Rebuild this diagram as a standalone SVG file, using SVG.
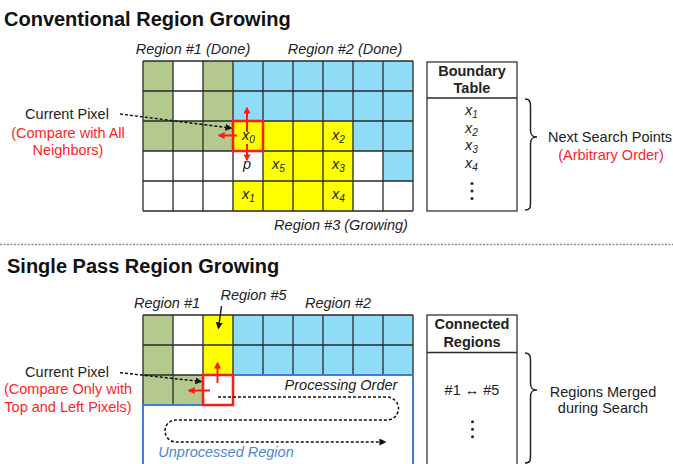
<svg xmlns="http://www.w3.org/2000/svg" width="673" height="464" viewBox="0 0 673 464">
<style>
text{font-family:"Liberation Sans",Arial,sans-serif;font-size:14.5px;fill:#222}
.title{font-size:20px;font-weight:bold;fill:#111}
.it{font-style:italic}
.b{font-weight:bold}
.red{fill:#ff2424}
.blu{fill:#4a86d8}
.mid{text-anchor:middle}
.sub{font-size:10px}
.gr{fill:#b5c98e}
.bl{fill:#8fdcf9}
.ye{fill:#ffff00}
.wh{fill:#ffffff}
.grid{stroke:#2a2a2a;stroke-width:1.3;fill:none}
.rbox{stroke:#ff1a1a;stroke-width:2.5;fill:none}
.rarr{stroke:#ff1a1a;stroke-width:2;fill:none;marker-end:url(#ar)}
.dash{stroke:#111;stroke-width:1.5;fill:none;stroke-dasharray:3 2;marker-end:url(#ak)}
.tbl{stroke:#333;stroke-width:1.3;fill:#fff}
.brace{stroke:#222;stroke-width:1.5;fill:none}
</style>
<defs>
<marker id="ar" viewBox="0 0 10 10" refX="8" refY="5" markerWidth="7" markerHeight="7" orient="auto" markerUnits="userSpaceOnUse"><path d="M0,0 L10,5 L0,10 z" fill="#ff1a1a"/></marker>
<marker id="ak" viewBox="0 0 10 10" refX="8" refY="5" markerWidth="7" markerHeight="7" orient="auto" markerUnits="userSpaceOnUse"><path d="M0,0 L10,5 L0,10 z" fill="#111"/></marker>
</defs>
<rect width="673" height="464" fill="#fff"/>

<text class="title" x="4" y="26">Conventional Region Growing</text>

<g id="grid-top">
<rect class="wh" x="143" y="61" width="270" height="150"/>
<rect class="gr" x="143" y="61" width="30" height="60"/>
<rect class="gr" x="203" y="61" width="30" height="60"/>
<rect class="gr" x="143" y="121" width="90" height="30"/>
<rect class="bl" x="233" y="61" width="180" height="60"/>
<rect class="bl" x="353" y="121" width="60" height="30"/>
<rect class="bl" x="383" y="151" width="30" height="30"/>
<rect class="ye" x="233" y="121" width="120" height="30"/>
<rect class="ye" x="263" y="151" width="90" height="30"/>
<rect class="ye" x="233" y="181" width="120" height="30"/>
<path class="grid" d="M143,61V211M173,61V211M203,61V211M233,61V211M263,61V211M293,61V211M323,61V211M353,61V211M383,61V211M413,61V211M143,61H413M143,91H413M143,121H413M143,151H413M143,181H413M143,211H413"/>
<text class="it" x="242" y="140">x<tspan class="sub" dy="3">0</tspan></text>
<text class="it mid" x="247" y="169">p</text>
<text class="it" x="272" y="169">x<tspan class="sub" dy="3">5</tspan></text>
<text class="it" x="332" y="140">x<tspan class="sub" dy="3">2</tspan></text>
<text class="it" x="332" y="169">x<tspan class="sub" dy="3">3</tspan></text>
<text class="it" x="242" y="199">x<tspan class="sub" dy="3">1</tspan></text>
<text class="it" x="332" y="199">x<tspan class="sub" dy="3">4</tspan></text>
<rect class="rbox" x="233" y="121" width="30" height="30"/>
</g>

<g id="labels-top">
<text class="it mid" x="193" y="54">Region #1 (Done)</text>
<text class="it mid" x="345" y="54">Region #2 (Done)</text>
<text class="it mid" x="341" y="230">Region #3 (Growing)</text>
<text class="mid" x="67" y="119">Current Pixel</text>
<text class="mid red" x="68" y="137.5">(Compare with All</text>
<text class="mid red" x="68" y="154.5">Neighbors)</text>
<text x="548" y="142">Next Search Points</text>
<text class="mid red" x="611" y="160">(Arbitrary Order)</text>
</g>

<g id="boundary-table">
<rect class="tbl" x="427" y="62" width="90" height="149"/>
<path class="grid" d="M427,98H517"/>
<text class="b mid" x="472" y="76">Boundary</text>
<text class="b mid" x="472" y="93">Table</text>
<text class="it" x="465" y="115">x<tspan class="sub" dy="3">1</tspan></text>
<text class="it" x="465" y="132.5">x<tspan class="sub" dy="3">2</tspan></text>
<text class="it" x="465" y="150">x<tspan class="sub" dy="3">3</tspan></text>
<text class="it" x="465" y="167.5">x<tspan class="sub" dy="3">4</tspan></text>
<circle cx="472" cy="183.5" r="1.5" fill="#222"/>
<circle cx="472" cy="191" r="1.5" fill="#222"/>
<circle cx="472" cy="198.5" r="1.5" fill="#222"/>
</g>

<line x1="0" y1="244.5" x2="673" y2="244.5" stroke="#8a8a8a" stroke-width="1.5" stroke-dasharray="2 1.5"/>

<text class="title" x="7" y="273">Single Pass Region Growing</text>

<g id="grid-bottom">
<rect class="gr" x="143" y="315" width="30" height="90"/>
<rect class="gr" x="173" y="375" width="30" height="30"/>
<rect class="wh" x="173" y="315" width="30" height="60"/>
<rect class="ye" x="203" y="315" width="30" height="60"/>
<rect class="bl" x="233" y="315" width="180" height="60"/>
<path class="grid" d="M143,315V405M173,315V405M203,315V405M233,315V375M263,315V375M293,315V375M323,315V375M353,315V375M383,315V375M413,315V375M143,315H413M143,345H413M143,375H233"/>
<path d="M143,470V405H203V375H413V470" fill="none" stroke="#3d7fd6" stroke-width="2"/>
<rect class="rbox" x="203" y="375" width="30" height="30"/>
</g>

<g id="labels-bottom">
<text class="it mid" x="167" y="308">Region #1</text>
<text class="it mid" x="253.5" y="300">Region #5</text>
<text class="it mid" x="338" y="308">Region #2</text>
<text class="mid" x="67" y="377">Current Pixel</text>
<text class="mid red" x="68" y="394">(Compare Only with</text>
<text class="mid red" x="68" y="411.5">Top and Left Pixels)</text>
<text class="it mid" x="341" y="390">Processing Order</text>
<text class="it mid blu" x="226" y="457">Unprocessed Region</text>
<text class="mid" x="603" y="397">Regions Merged</text>
<text class="mid" x="603" y="413">during Search</text>
</g>

<g id="connected-table">
<rect class="tbl" x="427" y="315" width="90" height="160"/>
<path class="grid" d="M427,352.5H517"/>
<text class="b mid" x="472" y="329">Connected</text>
<text class="b mid" x="472" y="347">Regions</text>
<text class="mid" x="472" y="395">#1 ↔ #5</text>
<circle cx="472.5" cy="421.7" r="1.5" fill="#222"/>
<circle cx="472.5" cy="429.3" r="1.5" fill="#222"/>
<circle cx="472.5" cy="436.8" r="1.5" fill="#222"/>
</g>

<g id="connectors">
<path class="rarr" d="M247,132V108"/>
<path class="rarr" d="M237,135.5H219"/>
<path class="rarr" d="M247,144V160"/>
<path class="dash" d="M120,114L231,128"/>
<path class="brace" d="M525,99C530,99 530.5,102 530.5,107V130C530.5,135 532,137 537,137C532,137 530.5,139 530.5,144V203C530.5,208 530,210 525,210"/>
<path class="rarr" d="M217.5,383V363"/>
<path class="rarr" d="M210,390.5H189"/>
<path class="dash" d="M120,372.7L201,381.5"/>
<path stroke="#111" stroke-width="1.4" fill="none" marker-end="url(#ak)" d="M221.5,306L218.5,328"/>
<path class="dash" d="M218,397H387A11.5,11.5 0 0 1 387,420H176A11,11 0 0 0 176,442H385"/>
<path class="brace" d="M525,353C530,353 530.5,356 530.5,361V383C530.5,388 532,390 537,390C532,390 530.5,392 530.5,397V455C530.5,461 530,463 525,463"/>
</g>
</svg>
